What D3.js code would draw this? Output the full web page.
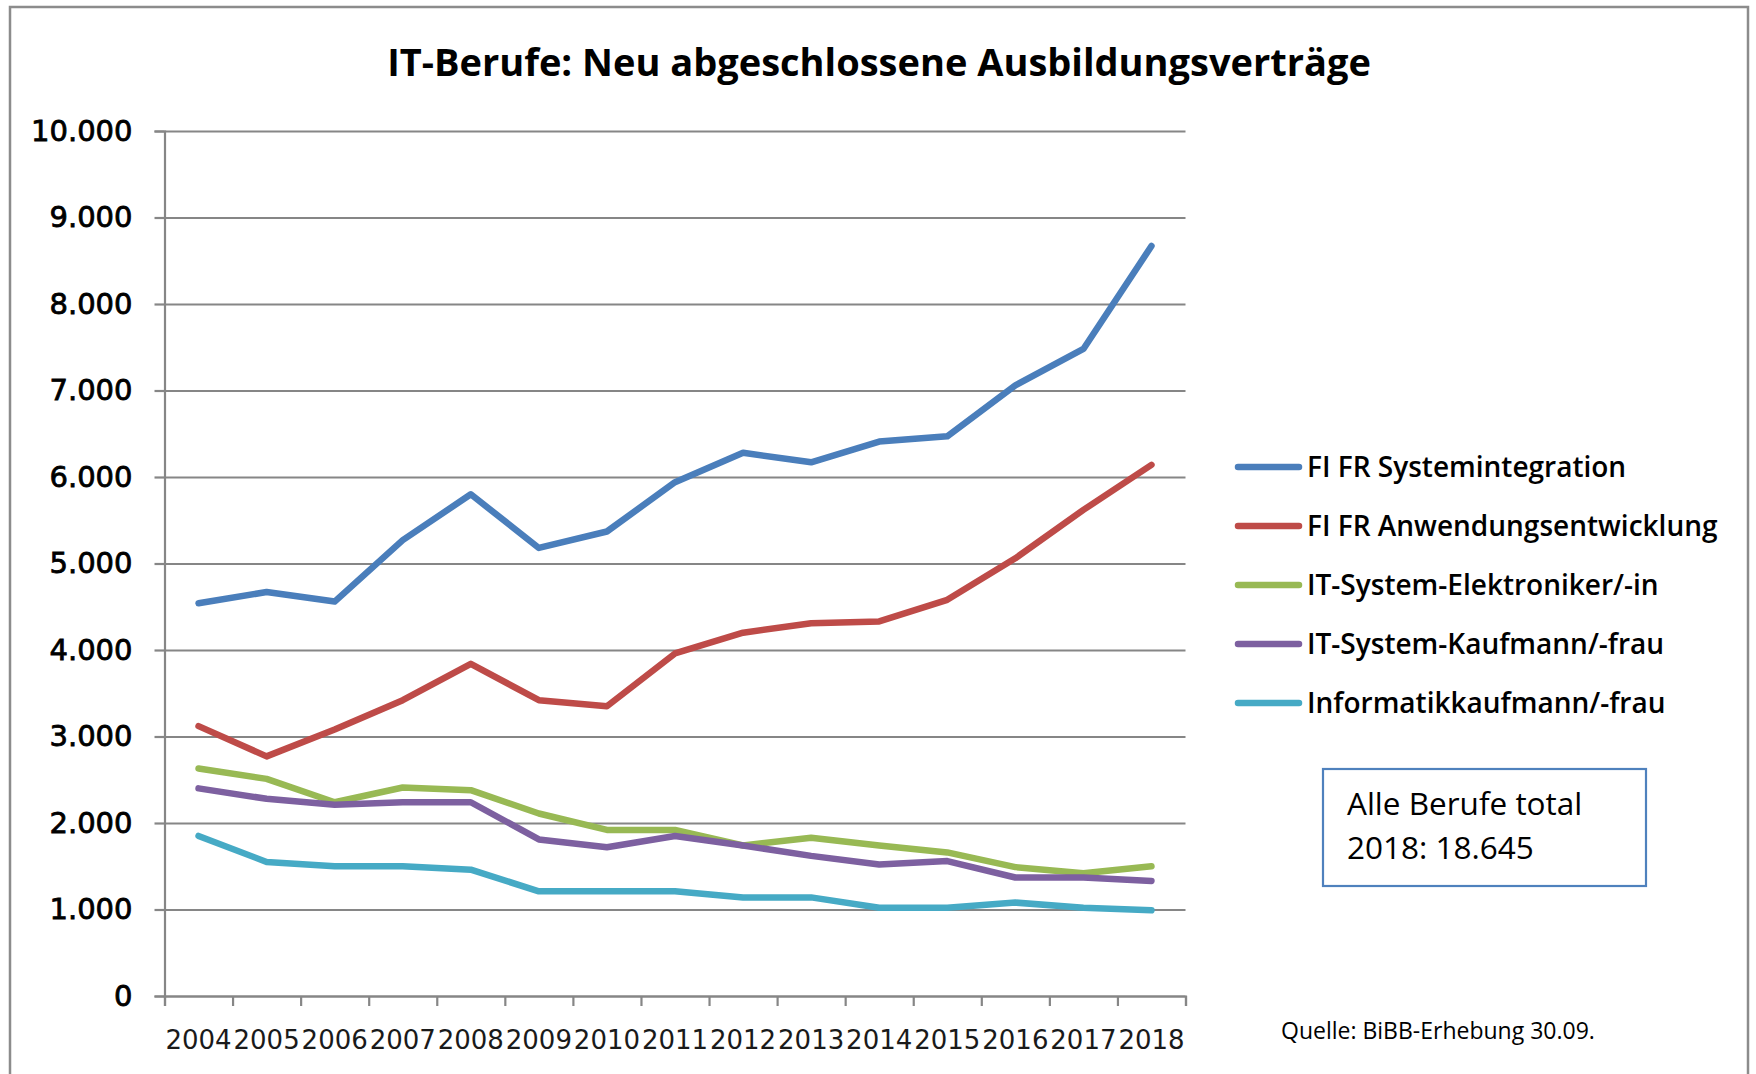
<!DOCTYPE html>
<html>
<head>
<meta charset="utf-8">
<script src="https://cdn.jsdelivr.net/npm/d3@7"></script>
<style>
  body { margin: 0; background: #fff; }
  svg { display: block; }
</style>
</head>
<body>
<svg width="1756" height="1074"></svg>
<script>
// Data
var years = ["2004","2005","2006","2007","2008","2009","2010","2011","2012","2013","2014","2015","2016","2017","2018"];
var seriesNames = ["FI FR Systemintegration", "FI FR Anwendungsentwicklung", "IT-System-Elektroniker/-in", "IT-System-Kaufmann/-frau", "Informatikkaufmann/-frau"];
var systemintegration = [4540, 4670, 4560, 5270, 5800, 5180, 5370, 5940, 6280, 6170, 6410, 6470, 7060, 7480, 8670];
var anwendungsentwicklung = [3120, 2770, 3080, 3420, 3840, 3420, 3350, 3960, 4200, 4310, 4330, 4580, 5060, 5620, 6140];
var elektroniker = [2630, 2510, 2240, 2410, 2380, 2110, 1920, 1920, 1740, 1830, 1740, 1660, 1490, 1420, 1500];
var systemKaufmann = [2400, 2280, 2210, 2240, 2240, 1810, 1720, 1850, 1740, 1620, 1520, 1560, 1370, 1370, 1330];
var informatikKaufmann = [1850, 1550, 1500, 1500, 1460, 1210, 1210, 1210, 1140, 1140, 1020, 1020, 1080, 1020, 990];
var yTicks = [0, 1000, 2000, 3000, 4000, 5000, 6000, 7000, 8000, 9000, 10000];
var chartTitle = "IT-Berufe: Neu abgeschlossene Ausbildungsverträge";
var boxLines = ["Alle Berufe total", "2018: 18.645"];
var sourceText = "Quelle: BiBB-Erhebung 30.09.";

var allSeries = [systemintegration, anwendungsentwicklung, elektroniker, systemKaufmann, informatikKaufmann];
var colors = ["#4A7EBB", "#BE4B48", "#98B954", "#7D60A0", "#46AAC5"];

// D3 elements
var svg = d3.select("svg"),
    plotLeft = 164.5, plotRight = 1185.5, plotTop = 131, plotBottom = 996,
    w = plotRight - plotLeft, h = plotBottom - plotTop;

var de = d3.formatLocale({decimal: ",", thousands: ".", grouping: [3], currency: ["", " €"]});
var fmt = de.format(",");

// outer chart frame
svg.append("rect")
    .attr("x", 10).attr("y", 7)
    .attr("width", 1738).attr("height", 1100)
    .attr("fill", "#fff")
    .attr("stroke", "#8c8c8c")
    .attr("stroke-width", 2.5);

svg.append("text")
    .attr("x", 879).attr("y", 76)
    .attr("text-anchor", "middle")
    .attr("font-family", "Open Sans, sans-serif")
    .attr("font-weight", 700)
    .attr("font-size", 38)
    .attr("fill", "#000")
    .text(chartTitle);

var g = svg.append("g").attr("transform", "translate(" + plotLeft + "," + plotTop + ")");

var x = d3.scaleBand().domain(years).range([0, w]).paddingInner(0).paddingOuter(0);
var xEdge = d3.scaleLinear().domain([0, years.length]).range([0, w]);
var y = d3.scaleLinear().domain([0, 10000]).range([h, 0]);

// gridlines
g.append("g")
    .call(d3.axisLeft(y).tickValues(yTicks).tickSize(-w).tickFormat(""))
    .call(s => s.select(".domain").remove())
    .selectAll("line")
        .attr("stroke", "#868686")
        .attr("stroke-width", 2.2);

// y axis with labels
var yAxis = g.append("g")
    .call(d3.axisLeft(y).tickValues(yTicks).tickSize(10).tickPadding(22).tickFormat(fmt));
yAxis.select(".domain").attr("stroke", "#868686").attr("stroke-width", 2.2);
yAxis.selectAll("line").attr("stroke", "#868686").attr("stroke-width", 2.2);
yAxis.selectAll("text")
    .attr("font-family", "DejaVu Sans, sans-serif")
    .attr("font-size", 29)
    .attr("fill", "#000")
    .attr("stroke", "#000")
    .attr("stroke-width", 0.8);

// x axis: ticks between categories
var xTicks = g.append("g")
    .attr("transform", "translate(0," + h + ")")
    .call(d3.axisBottom(xEdge).tickValues(d3.range(years.length + 1)).tickSize(10).tickFormat(""));
xTicks.select(".domain").attr("stroke", "#868686").attr("stroke-width", 2.2);
xTicks.selectAll("line").attr("stroke", "#868686").attr("stroke-width", 2.2);

var xLabels = g.append("g")
    .attr("transform", "translate(0," + h + ")")
    .call(d3.axisBottom(x).tickSize(0).tickPadding(35));
xLabels.select(".domain").remove();
xLabels.selectAll("text")
    .attr("font-family", "DejaVu Sans, sans-serif")
    .attr("font-size", 26)
    .attr("fill", "#1a1a1a");

// lines
var line = d3.line()
    .x((d, i) => x(years[i]) + x.bandwidth() / 2)
    .y(d => y(d));

g.append("g")
    .attr("fill", "none")
    .attr("stroke-width", 6.5)
    .attr("stroke-linejoin", "round")
    .attr("stroke-linecap", "round")
    .selectAll("path")
    .data(allSeries)
    .join("path")
        .attr("stroke", (d, i) => colors[i])
        .attr("d", line);

// legend
var legend = svg.append("g")
    .selectAll("g")
    .data(seriesNames)
    .join("g")
        .attr("transform", (d, i) => "translate(1235," + (467 + i * 59) + ")");

legend.append("line")
    .attr("x1", 3).attr("x2", 64)
    .attr("stroke", (d, i) => colors[i])
    .attr("stroke-width", 6.5)
    .attr("stroke-linecap", "round");

legend.append("text")
    .attr("x", 72)
    .attr("dy", "0.36em")
    .attr("font-family", "Open Sans, sans-serif")
    .attr("font-weight", 600)
    .attr("font-size", 28)
    .attr("fill", "#000")
    .text(d => d);

// text box
svg.append("rect")
    .attr("x", 1323).attr("y", 769)
    .attr("width", 323).attr("height", 117)
    .attr("fill", "#fff")
    .attr("stroke", "#4F81BD")
    .attr("stroke-width", 2.2);

svg.append("g")
    .selectAll("text")
    .data(boxLines)
    .join("text")
        .attr("x", 1347)
        .attr("y", (d, i) => 815 + i * 44)
        .attr("font-family", "Open Sans, sans-serif")
        .attr("font-size", 31.5)
        .attr("fill", "#000")
        .text(d => d);

svg.append("text")
    .attr("x", 1281).attr("y", 1039)
    .attr("font-family", "Open Sans, sans-serif")
    .attr("font-size", 23)
    .attr("fill", "#000")
    .text(sourceText);
</script>
</body>
</html>
